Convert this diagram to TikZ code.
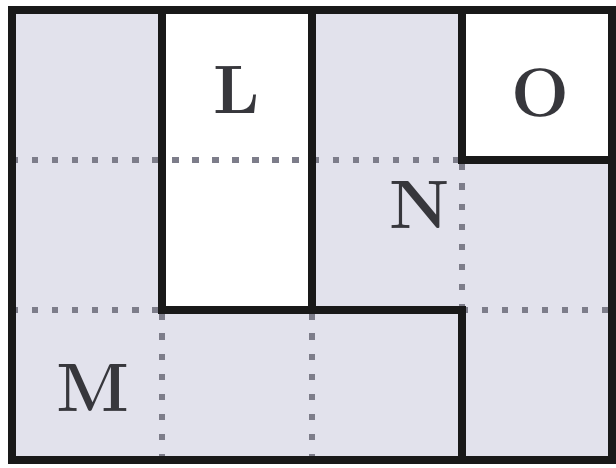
\documentclass[tikz,border=0pt]{standalone}
\usepackage{tikz}
\usetikzlibrary{positioning}
\definecolor{cellgray}{RGB}{226,226,236}
\definecolor{dotgray}{RGB}{125,125,138}
\definecolor{inkgray}{RGB}{55,55,60}
\tikzset{
    wall/.style={line width=2.7pt, black!90, line cap=rect, line join=miter},
    seam/.style={line width=2.3pt, dotgray, dash pattern=on 2.4pt off 5.2pt},
    letter/.style={font=\fontsize{26}{30}\selectfont\bfseries, text=inkgray, inner sep=0pt},
}

\begin{document}
\begin{tikzpicture}[x=2cm,y=2cm]
\useasboundingbox (-0.08,-0.047) rectangle (4.027,3.067);
% Cells
\fill[cellgray] (0,0) rectangle (4,3);
\fill[white] (1,1) rectangle (2,3);
\fill[white] (3,2) rectangle (4,3);

% Dotted seams
\draw[seam] (0,2) -- (3,2);
\draw[seam] (0,1) -- (1,1);
\draw[seam] (3,1) -- (4,1);
\draw[seam] (3,1) -- (3,2);
\draw[seam] (1,0) -- (1,1);
\draw[seam] (2,0) -- (2,1);

% Walls
\draw[wall] (1,3) -- (1,1) -- (3,1) -- (3,0);
\draw[wall] (2,3) -- (2,1);
\draw[wall] (3,3) -- (3,2) -- (4,2);
\draw[wall] (0,0) rectangle (4,3);

% Labels
\node[letter] (lL) at (1.5,2.47) {L};
\node[letter] (lO) at (3.52,2.45) {O};
\node[letter] (lN) at (2.72,1.70) {N};
\node[letter] (lM) at (0.54,0.48) {M};
\end{tikzpicture}
\end{document}
